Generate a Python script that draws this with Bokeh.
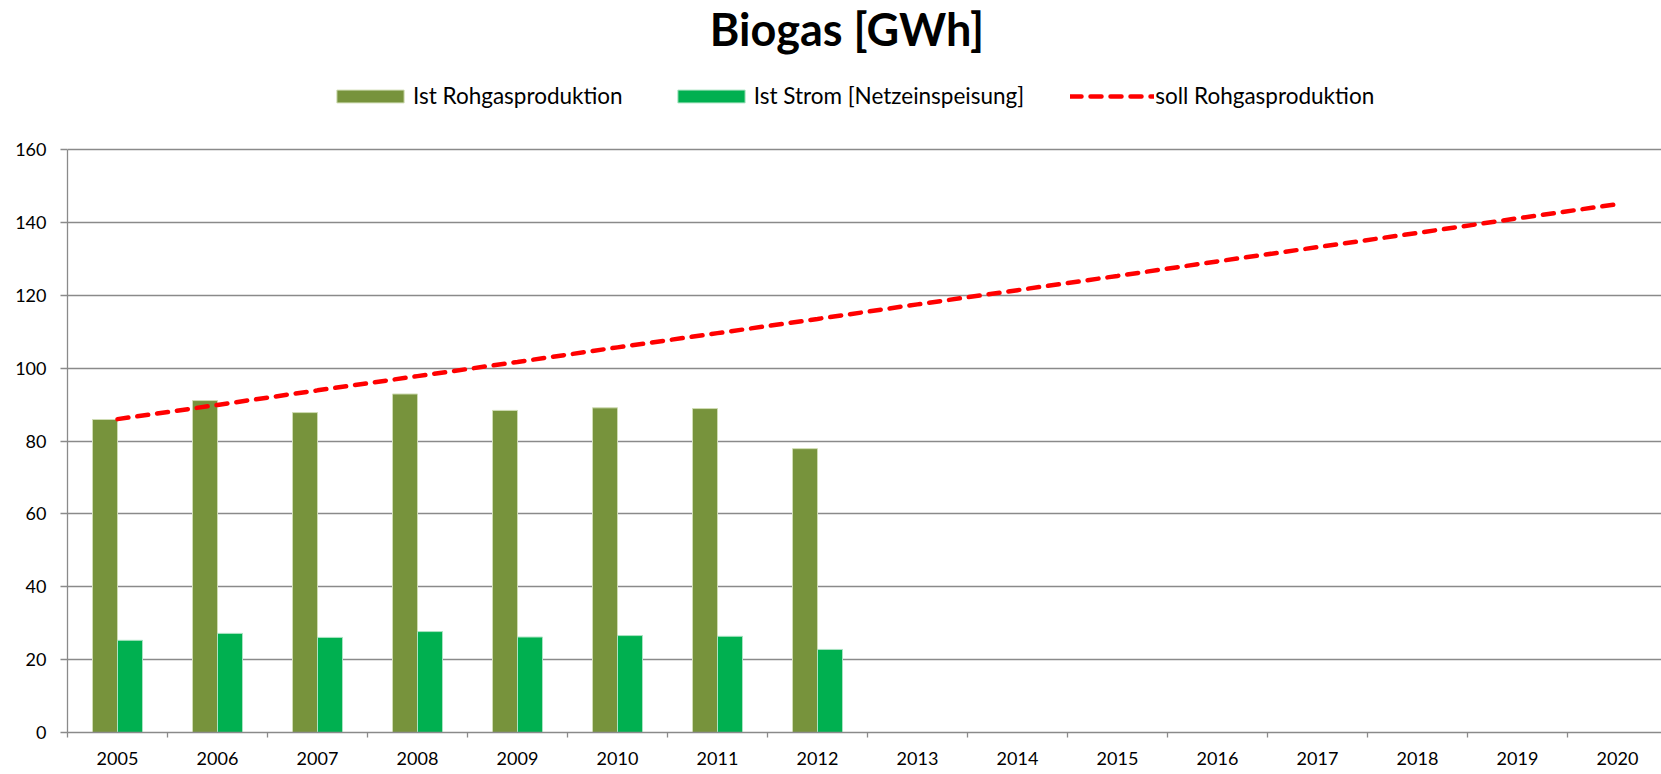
from bokeh.plotting import figure
from bokeh.models import (Range1d, FixedTicker, Legend, LegendItem, Label,
                          ColumnDataSource)
from bokeh.transform import dodge
from bokeh.embed import file_html
from bokeh.resources import INLINE

# ---- data ----
years = list(range(2005, 2021))
bar_years = years[:8]
ist_rohgas = [85.9, 91.1, 87.8, 92.9, 88.4, 89.1, 88.9, 77.9]
ist_strom = [25.3, 27.2, 26.1, 27.7, 26.2, 26.6, 26.4, 22.8]
soll_rohgas = [86.0, 89.9, 93.9, 97.8, 101.7, 105.7, 109.6, 113.5,
               117.5, 121.4, 125.3, 129.3, 133.2, 137.1, 141.1, 145.0]
y_ticks = [0, 20, 40, 60, 80, 100, 120, 140, 160]
title_text = "Biogas [GWh]"
legend_labels = ["Ist Rohgasproduktion", "Ist Strom [Netzeinspeisung]",
                 "soll Rohgasproduktion"]

FONT = "Lato"
GRID = "#8a8a8a"

# frame spans the whole top of the figure; the value axis ends at 160 and
# the space above it holds title and legend (keeps them inside the frame)
Y_MAX = y_ticks[-1]
FRAME_H = 732
AXIS_H = 583
p = figure(width=1661, height=774,
           x_range=Range1d(2004.5, 2020.44),
           y_range=Range1d(0, Y_MAX * FRAME_H / AXIS_H),
           output_backend="svg", toolbar_location=None,
           min_border_left=67, min_border_right=0,
           min_border_top=0, min_border_bottom=42)
p.outline_line_color = None
p.background_fill_color = "white"
p.border_fill_color = "white"

bars = ColumnDataSource(dict(year=bar_years, rohgas=ist_rohgas, strom=ist_strom))
line_src = ColumnDataSource(dict(year=years, soll=soll_rohgas))

r1 = p.vbar(x=dodge("year", -0.125), top="rohgas", width=0.25, source=bars,
            fill_color="#77933C", line_color="#cfdcb3", line_width=1)
r2 = p.vbar(x=dodge("year", 0.125), top="strom", width=0.25, source=bars,
            fill_color="#00B050", line_color="#a9e3c1", line_width=1)
r3 = p.line(x="year", y="soll", source=line_src, line_color="#FF0000",
            line_width=4.5, line_dash="11 9", line_cap="round")

# axes
p.yaxis.ticker = FixedTicker(ticks=y_ticks)
p.yaxis.bounds = (0, Y_MAX)
p.yaxis.axis_line_color = GRID
p.yaxis.axis_line_width = 1.3
p.yaxis.major_tick_line_color = GRID
p.yaxis.major_tick_line_width = 1.3
p.yaxis.major_tick_out = 7
p.yaxis.major_tick_in = 0
p.yaxis.minor_tick_line_color = None
p.yaxis.major_label_standoff = 14
p.yaxis.major_label_text_font = FONT
p.yaxis.major_label_text_font_size = "18px"
p.yaxis.major_label_text_color = "black"

p.xaxis.ticker = FixedTicker(ticks=years, minor_ticks=[y - 0.5 for y in years] + [years[-1] + 0.5])
p.xaxis.axis_line_color = GRID
p.xaxis.axis_line_width = 1.3
p.xaxis.major_tick_line_color = None
p.xaxis.major_tick_out = 5
p.xaxis.major_tick_in = 0
p.xaxis.minor_tick_line_color = GRID
p.xaxis.minor_tick_line_width = 1.3
p.xaxis.minor_tick_out = 5
p.xaxis.minor_tick_in = 0
p.xaxis.major_label_standoff = 14
p.xaxis.major_label_text_font = FONT
p.xaxis.major_label_text_font_size = "18px"
p.xaxis.major_label_text_color = "black"

p.xgrid.visible = False
p.ygrid.grid_line_color = GRID
p.ygrid.grid_line_width = 1.3
p.ygrid.ticker = FixedTicker(ticks=y_ticks)

legend = Legend(items=[LegendItem(label=legend_labels[0], renderers=[r1]),
                       LegendItem(label=legend_labels[1], renderers=[r2]),
                       LegendItem(label=legend_labels[2], renderers=[r3])],
                orientation="horizontal", location=(261, 623),
                glyph_width=84, glyph_height=16, label_standoff=1, spacing=46,
                padding=0, margin=0, border_line_color=None,
                background_fill_alpha=0, label_text_font=FONT,
                label_text_font_size="22.5px", label_text_color="black")
p.add_layout(legend)

title = Label(x=779.5, y=704, x_units="screen", y_units="screen",
              text=title_text, text_font=FONT, text_font_style="bold",
              text_font_size="45px", text_align="center",
              text_baseline="alphabetic", text_color="black")
p.add_layout(title)

open("out.html", "w").write(file_html(p, INLINE))
